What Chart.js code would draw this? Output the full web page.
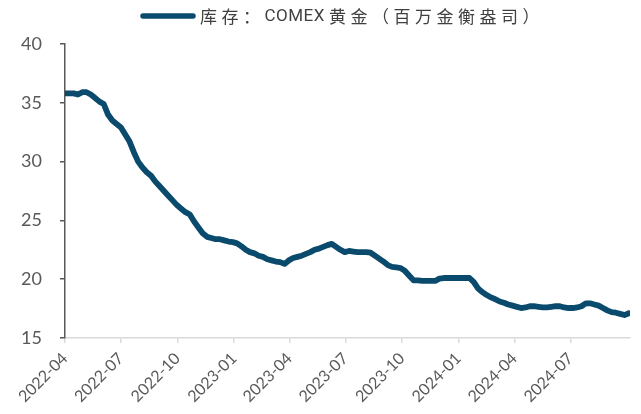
<!DOCTYPE html>
<html>
<head>
<meta charset="utf-8">
<script src="https://cdn.jsdelivr.net/npm/chart.js@4/dist/chart.umd.min.js"></script>
<style>
  html, body { margin: 0; padding: 0; background: #fff; }
  #wrap { width: 641px; height: 414px; }
</style>
</head>
<body>
<div id="wrap"><canvas id="kucun"></canvas></div>
<script>
// COMEX 黄金库存，周度（百万金衡盎司）
const dates = [
  "2022-04-01","2022-04-08","2022-04-15","2022-04-22","2022-04-29","2022-05-06","2022-05-13","2022-05-20","2022-05-27","2022-06-03",
  "2022-06-10","2022-06-17","2022-06-24","2022-07-01","2022-07-08","2022-07-15","2022-07-22","2022-07-29","2022-08-05","2022-08-12",
  "2022-08-19","2022-08-26","2022-09-02","2022-09-09","2022-09-16","2022-09-23","2022-09-30","2022-10-07","2022-10-14","2022-10-21",
  "2022-10-28","2022-11-04","2022-11-11","2022-11-18","2022-11-25","2022-12-02","2022-12-09","2022-12-16","2022-12-23","2022-12-30",
  "2023-01-06","2023-01-13","2023-01-20","2023-01-27","2023-02-03","2023-02-10","2023-02-17","2023-02-24","2023-03-03","2023-03-10",
  "2023-03-17","2023-03-24","2023-03-31","2023-04-07","2023-04-14","2023-04-21","2023-04-28","2023-05-05","2023-05-12","2023-05-19",
  "2023-05-26","2023-06-02","2023-06-09","2023-06-16","2023-06-23","2023-06-30","2023-07-07","2023-07-14","2023-07-21","2023-07-28",
  "2023-08-04","2023-08-11","2023-08-18","2023-08-25","2023-09-01","2023-09-08","2023-09-15","2023-09-22","2023-09-29","2023-10-06",
  "2023-10-13","2023-10-20","2023-10-27","2023-11-03","2023-11-10","2023-11-17","2023-11-24","2023-12-01","2023-12-08","2023-12-15",
  "2023-12-22","2023-12-29","2024-01-05","2024-01-12","2024-01-19","2024-01-26","2024-02-02","2024-02-09","2024-02-16","2024-02-23",
  "2024-03-01","2024-03-08","2024-03-15","2024-03-22","2024-03-29","2024-04-05","2024-04-12","2024-04-19","2024-04-26","2024-05-03",
  "2024-05-10","2024-05-17","2024-05-24","2024-05-31","2024-06-07","2024-06-14","2024-06-21","2024-06-28","2024-07-05","2024-07-12",
  "2024-07-19","2024-07-26","2024-08-02","2024-08-09","2024-08-16","2024-08-23","2024-08-30","2024-09-06","2024-09-13","2024-09-20",
  "2024-09-27","2024-10-04"
];

const stocks = [
  35.8, 35.8, 35.8, 35.7, 35.9, 35.9, 35.7, 35.4, 35.1, 34.9,
  34.0, 33.5, 33.2, 32.9, 32.3, 31.7, 30.8, 30.0, 29.5, 29.1,
  28.8, 28.3, 27.9, 27.5, 27.1, 26.7, 26.3, 26.0, 25.7, 25.5,
  24.9, 24.4, 23.9, 23.6, 23.5, 23.4, 23.4, 23.3, 23.2, 23.15,
  23.05, 22.8, 22.5, 22.3, 22.2, 22.0, 21.9, 21.7, 21.6, 21.5,
  21.45, 21.3, 21.6, 21.8, 21.9, 22.0, 22.15, 22.3, 22.5, 22.6,
  22.75, 22.9, 23.0, 22.75, 22.5, 22.3, 22.4, 22.35, 22.3, 22.3,
  22.3, 22.25, 22.0, 21.75, 21.5, 21.2, 21.05, 21.0, 20.95, 20.7,
  20.3, 19.9, 19.9, 19.85, 19.85, 19.85, 19.85, 20.05, 20.1, 20.1,
  20.1, 20.1, 20.1, 20.1, 20.1, 19.75, 19.2, 18.9, 18.65, 18.45,
  18.3, 18.1, 18.0, 17.85, 17.75, 17.65, 17.55, 17.6, 17.7, 17.7,
  17.65, 17.6, 17.6, 17.65, 17.7, 17.7, 17.6, 17.55, 17.55, 17.6,
  17.7, 17.95, 17.95, 17.85, 17.75, 17.55, 17.35, 17.2, 17.15, 17.05,
  16.95, 17.1
];

const tickLabels = ["2022-04", "2022-07", "2022-10", "2023-01", "2023-04",
                    "2023-07", "2023-10", "2024-01", "2024-04", "2024-07"];
const axisStart = "2022-04-01";
const axisEnd = "2024-10-06";

// 日期 -> 距起始日的天数
function dayOf(s) {
  return (Date.parse(s) - Date.parse(axisStart)) / 86400000;
}

const tickDays = tickLabels.map(l => dayOf(l + "-01"));
const points = dates.map((d, i) => ({ x: dayOf(d), y: stocks[i] }));

const lineColor = "#0a4a6c";

// 顶部图例：线段 + 文字（中文带字距，西文紧凑）
const topLegend = {
  id: "topLegend",
  afterDraw(chart) {
    const ds = chart.data.datasets[0];
    const ctx = chart.ctx;
    const y = 16;
    ctx.save();
    ctx.strokeStyle = ds.borderColor;
    ctx.lineWidth = 5.5;
    ctx.lineCap = "round";
    ctx.beginPath();
    ctx.moveTo(143, y);
    ctx.lineTo(193, y);
    ctx.stroke();
    ctx.fillStyle = "#404040";
    ctx.textBaseline = "middle";
    ctx.textAlign = "left";
    let x = 200;
    for (const run of ds.label.match(/[\x20-\x7e]+|[^\x20-\x7e]+/g)) {
      const latin = /^[\x20-\x7e]+$/.test(run);
      ctx.font = latin ? "17px 'Liberation Sans Narrow', 'Roboto', sans-serif"
                       : "17px 'Noto Sans CJK SC', sans-serif";
      ctx.letterSpacing = latin ? "0.5px" : "4.5px";
      ctx.fillText(run, x, y + 1);
      x += ctx.measureText(run).width + (latin ? 4 : 0);
    }
    ctx.restore();
  }
};

new Chart(document.getElementById("kucun"), {
  type: "line",
  data: {
    datasets: [{
      label: "库存：COMEX黄金（百万金衡盎司）",
      data: points,
      borderColor: lineColor,
      backgroundColor: lineColor,
      borderWidth: 5.8,
      borderCapStyle: "round",
      borderJoinStyle: "round",
      pointRadius: 0,
      tension: 0
    }]
  },
  plugins: [topLegend],
  options: {
    responsive: true,
    maintainAspectRatio: false,
    animation: false,
    layout: { padding: { top: 44, right: 11, left: 0, bottom: 0 } },
    plugins: {
      tooltip: { enabled: false },
      legend: { display: false }
    },
    scales: {
      x: {
        type: "linear",
        min: 0,
        max: dayOf(axisEnd),
        afterBuildTicks: (scale) => {
          scale.ticks = tickDays.map(v => ({ value: v }));
        },
        afterFit: (scale) => { scale.height = 76; },
        border: { color: "#d9d9d9", width: 1.5 },
        grid: { drawOnChartArea: false, tickLength: 5, color: "#d9d9d9", lineWidth: 1.5 },
        ticks: {
          autoSkip: false,
          maxRotation: 45,
          minRotation: 45,
          padding: 6,
          color: "#595959",
          font: { family: "Lato, sans-serif", size: 16 },
          callback: (value) => {
            const i = tickDays.indexOf(value);
            return i >= 0 ? tickLabels[i] : "";
          }
        }
      },
      y: {
        min: 15,
        max: 40,
        afterFit: (scale) => { scale.width = 65; },
        border: { color: "#595959", width: 1.5 },
        grid: { drawOnChartArea: false, tickLength: 5, color: "#595959", lineWidth: 1.5 },
        ticks: {
          stepSize: 5,
          padding: 18,
          color: "#595959",
          font: { family: "Lato, sans-serif", size: 18 }
        }
      }
    }
  }
});
</script>
</body>
</html>
